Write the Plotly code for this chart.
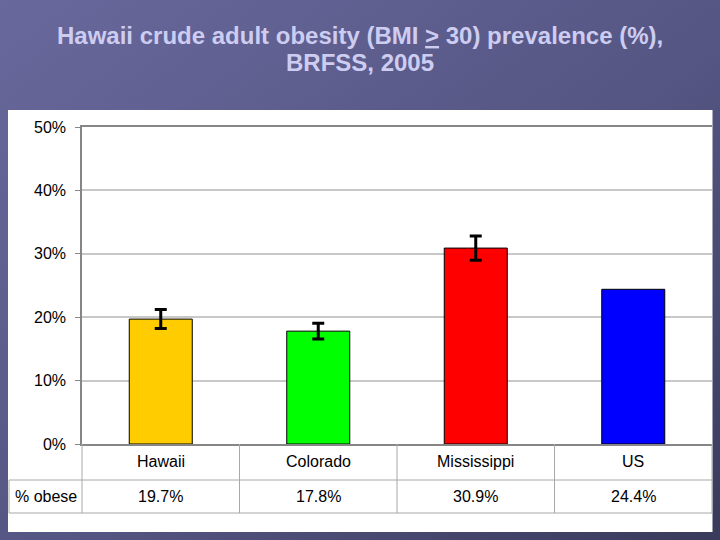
import plotly.graph_objects as go
import urllib.parse

# ---- data ----
categories = ["Hawaii", "Colorado", "Mississippi", "US"]
obese_pct = [19.7, 17.8, 30.9, 24.4]
ci_half = [1.5, 1.25, 1.9]          # error bars for the three states only
bar_colors = ["#ffcc00", "#00ff00", "#ff0000", "#0000ff"]
row_label = "% obese"
value_labels = ["19.7%", "17.8%", "30.9%", "24.4%"]
y_ticks = [0, 10, 20, 30, 40, 50]
y_tick_text = ["0%", "10%", "20%", "30%", "40%", "50%"]
title_lines = ["Hawaii crude adult obesity (BMI <u>&gt;</u> 30) prevalence (%),",
               "BRFSS, 2005"]

W, H = 720, 540
ML, MR, MT, MB = 82, 8, 127, 96
PW, PH = W - ML - MR, H - MT - MB


def px(x):
    return (x - ML) / PW


def py(y):
    return (H - MB - y) / PH


svg = ('<svg xmlns="http://www.w3.org/2000/svg" width="720" height="540">'
       '<defs><linearGradient id="g" x1="0" y1="0" x2="1" y2="1">'
       '<stop offset="0" stop-color="#68689c"/>'
       '<stop offset="0.55" stop-color="#555583"/>'
       '<stop offset="1" stop-color="#3a3a5c"/>'
       '</linearGradient></defs>'
       '<rect width="720" height="540" fill="url(#g)"/></svg>')
bg_src = "data:image/svg+xml;charset=utf-8," + urllib.parse.quote(svg)

fig = go.Figure()
fig.add_trace(go.Bar(
    x=categories[:3], y=obese_pct[:3], width=0.4,
    marker=dict(color=bar_colors[:3], line=dict(color="#000000", width=1)),
    error_y=dict(type="data", array=ci_half, color="#000000", thickness=3, width=6),
    hoverinfo="x+y", showlegend=False))
fig.add_trace(go.Bar(
    x=categories[3:], y=obese_pct[3:], width=0.4,
    marker=dict(color=bar_colors[3:], line=dict(color="#000000", width=1)),
    hoverinfo="x+y", showlegend=False))

grey = "#a8a8a8"
shapes = [
    dict(type="rect", xref="paper", yref="paper", x0=px(8), x1=px(712.5),
         y0=py(532), y1=py(110), fillcolor="white", line=dict(width=0), layer="below"),
    dict(type="line", xref="paper", yref="paper", x0=px(9), x1=px(712),
         y0=py(480), y1=py(480), line=dict(color=grey, width=1)),
    dict(type="line", xref="paper", yref="paper", x0=px(9), x1=px(712),
         y0=py(513), y1=py(513), line=dict(color=grey, width=1)),
    dict(type="line", xref="paper", yref="paper", x0=px(9), x1=px(9),
         y0=py(480), y1=py(513), line=dict(color=grey, width=1)),
    dict(type="line", xref="paper", yref="paper", x0=0, x1=0,
         y0=0, y1=py(513), line=dict(color=grey, width=1)),
    dict(type="line", xref="paper", yref="paper", x0=1, x1=1,
         y0=0, y1=py(513), line=dict(color=grey, width=1)),
]
for i in range(len(categories) - 1):
    shapes.append(dict(type="line", xref="x", yref="paper", x0=i + 0.5, x1=i + 0.5,
                       y0=0, y1=py(513), line=dict(color=grey, width=1)))

font_main = "Liberation Sans, Arial, sans-serif"
annotations = []
for i, c in enumerate(categories):
    annotations.append(dict(x=c, y=py(461), xref="x", yref="paper", text=c,
                            showarrow=False, font=dict(size=16, color="#000000", family=font_main),
                            xanchor="center", yanchor="middle"))
    annotations.append(dict(x=c, y=py(496.5), xref="x", yref="paper", text=value_labels[i],
                            showarrow=False, font=dict(size=16, color="#000000", family=font_main),
                            xanchor="center", yanchor="middle"))
annotations.append(dict(x=px(45.5), y=py(496.5), xref="paper", yref="paper", text=row_label,
                        showarrow=False, font=dict(size=16, color="#000000", family=font_main),
                        xanchor="center", yanchor="middle"))
for j, (t, yy) in enumerate(zip(title_lines, [35, 63])):
    annotations.append(dict(x=px(360), y=py(yy), xref="paper", yref="paper", text="<b>" + t + "</b>",
                            showarrow=False, font=dict(size=24, color="#cdcdf2", family=font_main),
                            xanchor="center", yanchor="middle"))

fig.update_layout(
    width=W, height=H,
    margin=dict(l=ML, r=MR, t=MT, b=MB, pad=0),
    paper_bgcolor="#5a5a88",
    plot_bgcolor="white",
    barmode="overlay",
    images=[dict(source=bg_src, xref="paper", yref="paper", x=px(0), y=py(0),
                 sizex=px(720) - px(0), sizey=py(0) - py(540), xanchor="left", yanchor="top",
                 sizing="stretch", layer="below")],
    shapes=shapes,
    annotations=annotations,
    xaxis=dict(type="category", categoryorder="array", categoryarray=categories,
               range=[-0.5, len(categories) - 0.5], showticklabels=False, ticks="",
               showline=True, linecolor="#868686", linewidth=1.5, mirror=True,
               showgrid=False, zeroline=False, fixedrange=True),
    yaxis=dict(range=[0, 50], tickmode="array", tickvals=y_ticks, ticktext=y_tick_text,
               ticks="outside", ticklen=5, tickcolor="#868686", ticklabelstandoff=6,
               showline=True, linecolor="#868686", linewidth=1.5,
               showgrid=True, gridcolor="#c8c8c8", gridwidth=1.5, zeroline=False,
               tickfont=dict(size=16, color="#000000", family=font_main), fixedrange=True),
    showlegend=False,
)

fig.write_html("out.html", config={"displayModeBar": False},
               post_script="document.body.style.margin='0';document.body.style.padding='0';")
